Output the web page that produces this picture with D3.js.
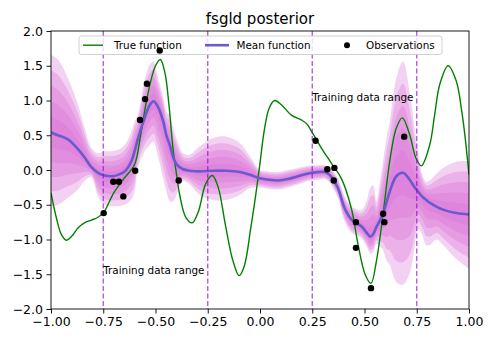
<!DOCTYPE html>
<html>
<head>
<meta charset="utf-8">
<script src="https://cdn.jsdelivr.net/npm/d3@7"></script>
<style>
  body { margin: 0; background: #fff; }
  text { font-family: "DejaVu Sans", sans-serif; }
</style>
</head>
<body>
<script>
const W = 498;
const H = 343;
const M = { left: 51, right: 29, top: 31, bottom: 34 };

// true function
const trueX = [-1.0, -0.975, -0.95, -0.927, -0.9, -0.87, -0.84, -0.807, -0.775, -0.748,
  -0.72, -0.7, -0.65, -0.6, -0.574, -0.55, -0.525, -0.5, -0.477, -0.455,
  -0.436, -0.416, -0.4, -0.384, -0.355, -0.324, -0.295, -0.26, -0.228, -0.2,
  -0.165, -0.13, -0.1, -0.075, -0.045, -0.02, 0.0, 0.022, 0.045, 0.07,
  0.102, 0.15, 0.198, 0.225, 0.246, 0.293, 0.341, 0.389, 0.437, 0.469,
  0.504, 0.531, 0.557, 0.589, 0.621, 0.652, 0.681, 0.716, 0.745, 0.772,
  0.812, 0.836, 0.86, 0.9, 0.939, 0.965, 0.98, 1.0];
const trueY = [-0.33, -0.68, -0.93, -1.01, -0.95, -0.83, -0.76, -0.72, -0.68, -0.61,
  -0.45, -0.33, -0.12, 0.08, 0.45, 0.88, 1.25, 1.5, 1.59, 1.4,
  0.95, 0.3, -0.05, -0.36, -0.68, -0.76, -0.6, -0.2, -0.08, -0.25,
  -0.8, -1.3, -1.52, -1.38, -0.85, -0.35, 0.1, 0.6, 0.9, 1.0,
  0.94, 0.79, 0.72, 0.66, 0.56, 0.32, 0.1, -0.12, -0.55, -1.07,
  -1.51, -1.63, -1.31, -0.63, 0.13, 0.6, 0.75, 0.51, 0.18, 0.06,
  0.36, 0.8, 1.23, 1.5, 1.28, 0.85, 0.51, -0.07];

// posterior mean and outer envelope
const gridX = [-1.0, -0.967, -0.919, -0.871, -0.839, -0.807, -0.775, -0.743, -0.711, -0.679,
  -0.647, -0.615, -0.6, -0.584, -0.552, -0.53, -0.51, -0.49, -0.463, -0.448,
  -0.431, -0.415, -0.399, -0.368, -0.336, -0.288, -0.225, -0.161, -0.097, -0.049,
  0.0, 0.04, 0.086, 0.134, 0.182, 0.23, 0.278, 0.31, 0.333, 0.353,
  0.373, 0.405, 0.437, 0.46, 0.485, 0.51, 0.528, 0.542, 0.557, 0.575,
  0.589, 0.605, 0.621, 0.652, 0.684, 0.716, 0.74, 0.756, 0.775, 0.795,
  0.812, 0.846, 0.876, 0.939, 1.0];
const meanY = [0.54, 0.5, 0.44, 0.3, 0.18, 0.04, -0.04, -0.08, -0.09, -0.07,
  -0.02, 0.13, 0.27, 0.45, 0.75, 0.92, 0.99, 0.92, 0.7, 0.5,
  0.35, 0.18, 0.08, 0.01, -0.01, -0.02, -0.01, -0.01, -0.03, -0.07,
  -0.12, -0.14, -0.15, -0.13, -0.09, -0.05, -0.03, -0.03, -0.07, -0.15,
  -0.26, -0.55, -0.71, -0.76, -0.81, -0.9, -0.96, -0.92, -0.82, -0.72,
  -0.63, -0.47, -0.31, -0.09, -0.04, -0.14, -0.25, -0.31, -0.38, -0.43,
  -0.47, -0.53, -0.57, -0.62, -0.64];
const upperY = [1.66, 1.59, 1.32, 0.94, 0.6, 0.32, 0.24, 0.27, 0.27, 0.29,
  0.36, 0.55, 0.7, 0.8, 1.3, 1.5, 1.56, 1.35, 1.05, 0.84,
  0.78, 0.6, 0.45, 0.24, 0.22, 0.34, 0.46, 0.48, 0.39, 0.2,
  0.0, -0.02, -0.03, 0.0, 0.03, 0.06, 0.07, 0.07, 0.04, -0.03,
  -0.12, -0.38, -0.52, -0.56, -0.58, -0.45, -0.25, -0.22, -0.45, -0.15,
  0.13, 0.45, 0.7, 1.32, 1.56, 1.13, 0.6, 0.27, -0.05, -0.17,
  -0.15, -0.05, 0.03, 0.12, 0.13];
const lowerY = [-0.52, -0.5, -0.4, -0.28, -0.16, -0.1, -0.38, -0.5, -0.52, -0.52,
  -0.5, -0.42, -0.31, 0.03, 0.27, 0.35, 0.41, 0.22, -0.12, -0.31,
  -0.45, -0.45, -0.36, -0.16, -0.21, -0.36, -0.43, -0.43, -0.36, -0.26,
  -0.25, -0.27, -0.28, -0.25, -0.21, -0.16, -0.14, -0.13, -0.18, -0.28,
  -0.4, -0.74, -0.9, -0.94, -0.98, -1.1, -1.2, -1.18, -1.06, -1.1,
  -1.15, -1.3, -1.37, -1.61, -1.65, -1.49, -1.1, -0.85, -0.92, -1.08,
  -1.08, -1.0, -1.08, -1.28, -1.42];

const obsX = [-0.748, -0.702, -0.675, -0.654, -0.597, -0.574, -0.55, -0.541, -0.48, -0.389,
  0.266, 0.322, 0.356, 0.353, 0.459, 0.459, 0.531, 0.589, 0.595, 0.69];
const obsY = [-0.62, -0.17, -0.17, -0.38, -0.01, 0.72, 1.02, 1.24, 1.72, -0.15,
  0.42, 0.01, 0.03, -0.15, -0.75, -1.12, -1.7, -0.63, -0.75, 0.48];

const rangeLines = [-0.75, -0.25, 0.25, 0.75];
const rangeLabels = [{ x: -0.75, y: -1.5 }, { x: 0.25, y: 1.0 }];
const bandLevels = [1.0, 0.8, 0.6, 0.4, 0.2];
const xTicks = [-1, -0.75, -0.5, -0.25, 0, 0.25, 0.5, 0.75, 1];
const yTicks = [-2, -1.5, -1, -0.5, 0, 0.5, 1, 1.5, 2];

const svg = d3.select("body").append("svg").attr("width", W).attr("height", H);

const x = d3.scaleLinear().domain([-1, 1]).range([M.left, W - M.right]);
const y = d3.scaleLinear().domain([-2, 2]).range([H - M.bottom, M.top]);

svg.append("clipPath").attr("id", "clip")
  .append("rect")
  .attr("x", M.left).attr("y", M.top)
  .attr("width", W - M.left - M.right).attr("height", H - M.top - M.bottom);

const plot = svg.append("g").attr("clip-path", "url(#clip)");

const grid = gridX.map((gx, i) => ({ x: gx, m: meanY[i], hi: upperY[i], lo: lowerY[i] }));
const curve = d3.curveCatmullRom.alpha(0.5);

// shaded bands, widest first
bandLevels.forEach((f) => {
  const area = d3.area()
    .x((d) => x(d.x))
    .y0((d) => y(d.m + f * (d.lo - d.m)))
    .y1((d) => y(d.m + f * (d.hi - d.m)))
    .curve(curve);
  plot.append("path")
    .datum(grid)
    .attr("d", area)
    .attr("fill", "#da70d6")
    .attr("fill-opacity", 0.32);
});

const trueLine = d3.line().x((d) => x(d[0])).y((d) => y(d[1])).curve(curve);
plot.append("path")
  .datum(trueX.map((v, i) => [v, trueY[i]]))
  .attr("d", trueLine)
  .attr("fill", "none")
  .attr("stroke", "green")
  .attr("stroke-width", 1.4);

const meanLine = d3.line().x((d) => x(d.x)).y((d) => y(d.m)).curve(curve);
plot.append("path")
  .datum(grid)
  .attr("d", meanLine)
  .attr("fill", "none")
  .attr("stroke", "#6a5acd")
  .attr("stroke-width", 2.6);

plot.append("g").selectAll("line")
  .data(rangeLines)
  .join("line")
  .attr("x1", (d) => x(d)).attr("x2", (d) => x(d))
  .attr("y1", M.top).attr("y2", H - M.bottom)
  .attr("stroke", "darkviolet")
  .attr("stroke-opacity", 0.7)
  .attr("stroke-width", 1.3)
  .attr("stroke-dasharray", "5,2.5");

svg.append("g").selectAll("text")
  .data(rangeLabels)
  .join("text")
  .attr("x", (d) => x(d.x))
  .attr("y", (d) => y(d.y))
  .attr("font-size", "10.4px")
  .text("Training data range");

// axes
const fmtX = (d) => d3.format(".2f")(d).replace("-", "\u2212");
const fmtY = (d) => d3.format(".1f")(d).replace("-", "\u2212");

const xAxis = svg.append("g")
  .attr("transform", `translate(0,${H - M.bottom})`)
  .call(d3.axisBottom(x).tickValues(xTicks).tickFormat(fmtX).tickSize(4.5).tickPadding(3.5));
const yAxis = svg.append("g")
  .attr("transform", `translate(${M.left},0)`)
  .call(d3.axisLeft(y).tickValues(yTicks).tickFormat(fmtY).tickSize(4.5).tickPadding(3.5));

[xAxis, yAxis].forEach((a) => {
  a.select(".domain").remove();
  a.selectAll("line").attr("stroke", "black").attr("stroke-width", 0.9);
  a.selectAll("text").attr("font-size", "12.5px").attr("fill", "black")
    .attr("font-family", "DejaVu Sans");
});

svg.append("rect")
  .attr("x", M.left).attr("y", M.top)
  .attr("width", W - M.left - M.right).attr("height", H - M.top - M.bottom)
  .attr("fill", "none")
  .attr("stroke", "black")
  .attr("stroke-width", 0.9);

svg.append("text")
  .attr("x", (M.left + W - M.right) / 2)
  .attr("y", 24)
  .attr("text-anchor", "middle")
  .attr("font-size", "15px")
  .text("fsgld posterior");

// legend
const legend = svg.append("g");
legend.append("rect")
  .attr("x", 79).attr("y", 36)
  .attr("width", 363).attr("height", 18.5)
  .attr("rx", 2.5)
  .attr("fill", "white").attr("fill-opacity", 0.8)
  .attr("stroke", "#cccccc").attr("stroke-width", 0.9);

const ly = 45.2;
legend.append("line").attr("x1", 83).attr("x2", 103).attr("y1", ly).attr("y2", ly)
  .attr("stroke", "green").attr("stroke-width", 1.4);
legend.append("line").attr("x1", 205).attr("x2", 229).attr("y1", ly).attr("y2", ly)
  .attr("stroke", "#6a5acd").attr("stroke-width", 2.6);
legend.append("circle").attr("cx", 347).attr("cy", ly).attr("r", 3).attr("fill", "black");

legend.selectAll("text.lab")
  .data([{ t: "True function", x: 114 }, { t: "Mean function", x: 236.5 }, { t: "Observations", x: 366 }])
  .join("text")
  .attr("class", "lab")
  .attr("x", (d) => d.x)
  .attr("y", ly)
  .attr("dy", "0.36em")
  .attr("font-size", "10.4px")
  .text((d) => d.t);

// observations sit on top of everything, legend included
svg.append("g").attr("clip-path", "url(#clip)").selectAll("circle")
  .data(obsX.map((v, i) => [v, obsY[i]]))
  .join("circle")
  .attr("cx", (d) => x(d[0]))
  .attr("cy", (d) => y(d[1]))
  .attr("r", 3.2)
  .attr("fill", "black");
</script>
</body>
</html>
